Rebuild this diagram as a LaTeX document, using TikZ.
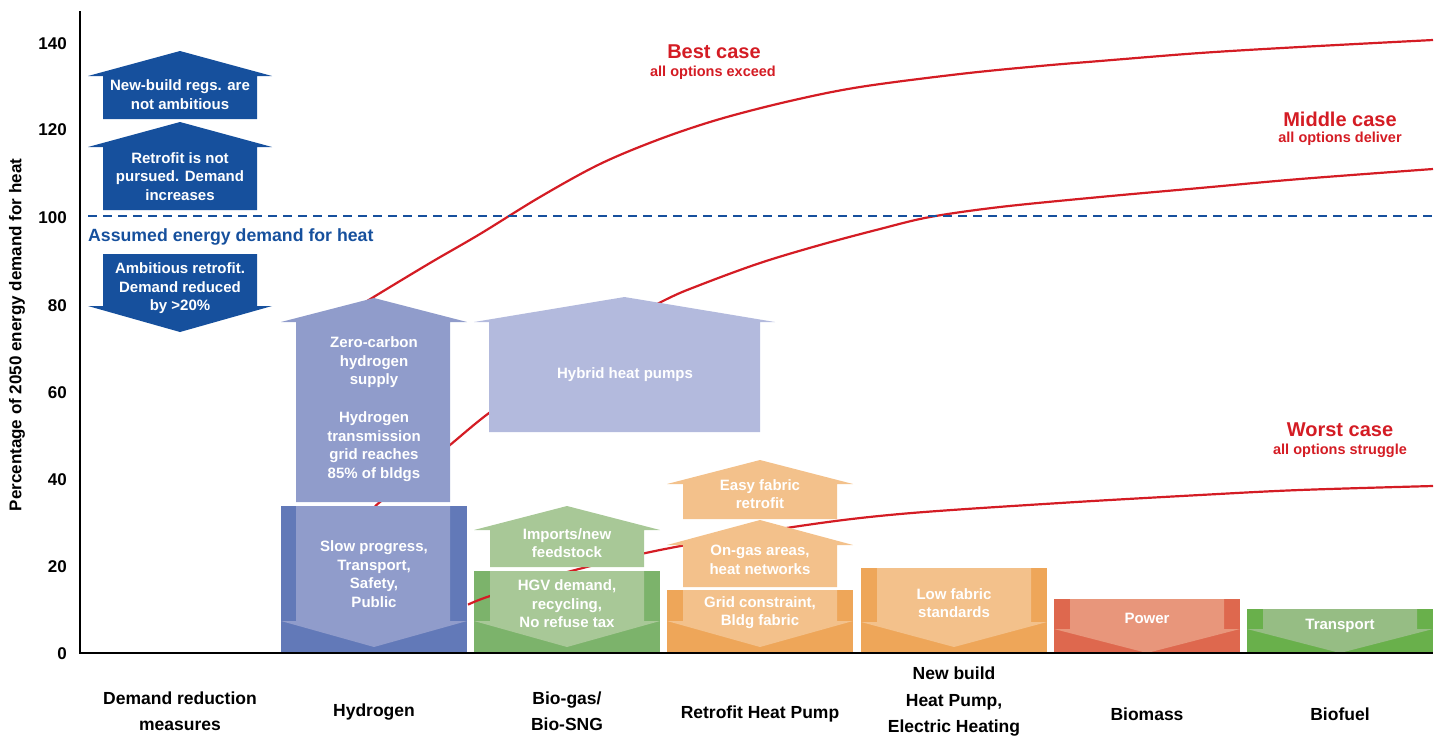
\documentclass[tikz,border=0pt]{standalone}
\usepackage{fontspec}
\setmainfont{Liberation Sans}
\definecolor{dblue}{RGB}{22,80,157}
\definecolor{casered}{RGB}{212,28,36}
\definecolor{h2dark}{RGB}{98,121,184}
\definecolor{h2light}{RGB}{144,156,203}
\definecolor{hyb}{RGB}{179,186,221}
\definecolor{bgdark}{RGB}{124,179,107}
\definecolor{bglight}{RGB}{168,200,151}
\definecolor{ordark}{RGB}{238,166,89}
\definecolor{orlight}{RGB}{243,193,139}
\definecolor{bmdark}{RGB}{222,104,78}
\definecolor{bmlight}{RGB}{232,150,123}
\definecolor{bfdark}{RGB}{105,176,75}
\definecolor{bflight}{RGB}{150,189,132}
% #1 colour, #2 X1, #3 X2, #4 bx1, #5 bx2, #6 tip y, #7 head base y, #8 bottom y
\newcommand{\ArrUp}[8]{\fill[#1] ({(#2+#3)/2},#6) -- (#3,#7) -- (#5,#7) -- (#5,#8) -- (#4,#8) -- (#4,#7) -- (#2,#7) -- cycle;}
% #1 colour, #2 X1, #3 X2, #4 bx1, #5 bx2, #6 top y, #7 head y, #8 tip y
\newcommand{\ArrDown}[8]{\fill[#1] (#4,#6) -- (#5,#6) -- (#5,#7) -- (#3,#7) -- ({(#2+#3)/2},#8) -- (#2,#7) -- (#4,#7) -- cycle;}
\begin{document}
\begin{tikzpicture}[x=1pt,y=-1pt,
  lbl/.style={font=\fontsize{15}{18.6}\selectfont\bfseries, text=white, align=center, inner sep=0pt},
  cat/.style={font=\fontsize{17.5}{26.5}\selectfont\bfseries, align=center, inner sep=0pt},
  tick/.style={font=\fontsize{17}{20}\selectfont\bfseries, anchor=east, inner sep=0pt},
  casetitle/.style={font=\fontsize{20}{24}\selectfont\bfseries, text=casered, inner sep=0pt},
  casesub/.style={font=\fontsize{14.5}{17}\selectfont\bfseries, text=casered, inner sep=0pt},
  curve/.style={draw=casered, line width=2.2pt},
  axisline/.style={draw=black, line width=1.2pt}]
\useasboundingbox (0,0) rectangle (1443,737);

% dark column boxes
\fill[h2dark] (281,506) rectangle (467,653);
\fill[bgdark] (474,571) rectangle (660,653);
\fill[ordark] (667,590) rectangle (853,653);
\fill[ordark] (861,568) rectangle (1047,653);
\fill[bmdark] (1054,599) rectangle (1240,653);
\fill[bfdark] (1247,609) rectangle (1433,653);

% scenario curves
\draw[curve] plot[smooth,tension=0.55] coordinates {(340,318) (372,298) (430,263) (480,234) (540,197) (600,164) (660,139) (720,119) (790,101) (860,87) (960,74) (1040,66) (1100,61) (1200,53) (1300,47) (1433,40)};
\draw[curve] plot[smooth,tension=0.55] coordinates {(376,506) (380,502) (420,470) (450,445) (489,413) (540,378) (600,335) (665,300) (700,285) (760,263) (820,245) (880,229) (930,217) (1000,207) (1100,197) (1200,188) (1300,179) (1433,169)};
\draw[curve] plot[smooth,tension=0.55] coordinates {(468,604.6) (490,596) (560,574) (660,550) (793,527) (900,514) (1060,503) (1200,495) (1300,490) (1433,486)};

% light arrows
\ArrDown{h2light}{281}{467}{296}{450}{506}{621}{647}
\ArrUp{h2light}{281}{467}{296}{450}{298}{322}{502}
\ArrUp{hyb}{474}{775}{489}{760}{297}{322}{432}
\ArrDown{bglight}{474}{660}{490}{644}{571}{621}{647}
\ArrUp{bglight}{474}{660}{490}{644}{506}{530}{567}
\ArrDown{orlight}{667}{853}{683}{837}{590}{621}{647}
\ArrUp{orlight}{667}{853}{683}{837}{520}{545}{587}
\ArrUp{orlight}{667}{853}{683}{837}{460}{484}{519}
\ArrDown{orlight}{861}{1047}{877}{1031}{568}{622}{647}
\ArrDown{bmlight}{1054}{1240}{1070}{1224}{599}{629}{653}
\ArrDown{bflight}{1247}{1433}{1263}{1417}{609}{629}{653}

% demand reduction arrows
\ArrUp{dblue}{88}{272}{103}{257}{51}{76}{119}
\ArrUp{dblue}{88}{272}{103}{257}{122}{147}{210}
\ArrDown{dblue}{88}{272}{103}{257}{254}{306}{332}

% assumed demand line
\draw[dblue, line width=2.2pt, dash pattern=on 9pt off 6pt] (88,216) -- (1433,216);
\node[font=\fontsize{17.7}{20}\selectfont\bfseries, text=dblue, anchor=west, inner sep=0pt] (assumed) at (88,237) {Assumed energy demand for heat};

% arrow texts
\node[lbl] (t1) at (180,94.5) {New-build regs. are\\not ambitious};
\node[lbl] (t2) at (180,176.5) {Retrofit is not\\pursued. Demand\\increases};
\node[lbl] (t3) at (180,288.5) {Ambitious retrofit.\\Demand reduced\\by >20\%};
\node[lbl] (h1) at (374,362.5) {Zero-carbon\\hydrogen\\supply};
\node[lbl] (h2) at (374,446.5) {Hydrogen\\transmission\\grid reaches\\85\% of bldgs};
\node[lbl] (h3) at (374,574) {Slow progress,\\Transport,\\Safety,\\Public};
\node[lbl] (hy) at (625,375) {Hybrid heat pumps};
\node[lbl] (b1) at (567,543) {Imports/new\\feedstock};
\node[lbl] (b2) at (567,604) {HGV demand,\\recycling,\\No refuse tax};
\node[lbl] (r1) at (760,494) {Easy fabric\\retrofit};
\node[lbl] (r2) at (760,560) {On-gas areas,\\heat networks};
\node[lbl] (r3) at (760,612.5) {Grid constraint,\\Bldg fabric};
\node[lbl] (n1) at (954,603) {Low fabric\\standards};
\node[lbl] (p1) at (1147,618) {Power};
\node[lbl] (f1) at (1340,626) {Transport};

% scenario labels
\node[casetitle] (best) at (714,52) {Best case};
\node[casesub] (bests) at (713,73) {all options exceed};
\node[casetitle] (mid) at (1340,119) {Middle case};
\node[casesub] (mids) at (1340,139) {all options deliver};
\node[casetitle] (worst) at (1340,430) {Worst case};
\node[casesub] (worsts) at (1340,451) {all options struggle};

% axes
\draw[axisline] (80,11) -- (80,653) -- (1433,653);
\node[tick] (y0) at (67,654) {0};
\node[tick] (y20) at (67,567) {20};
\node[tick] (y40) at (67,480) {40};
\node[tick] (y60) at (67,393) {60};
\node[tick] (y80) at (67,306) {80};
\node[tick] (y100) at (67,218) {100};
\node[tick] (y120) at (67,130) {120};
\node[tick] (y140) at (67,44) {140};
\node[font=\fontsize{17}{20}\selectfont\bfseries, rotate=90, inner sep=0pt] (ytitle) at (17,335) {Percentage of 2050 energy demand for heat};

% category labels
\node[cat] (c1) at (180,711) {Demand reduction\\measures};
\node[cat] (c2) at (374,712) {Hydrogen};
\node[cat] (c3) at (567,711) {Bio-gas/\\Bio-SNG};
\node[cat] (c4) at (760,714) {Retrofit Heat Pump};
\node[cat] (c5) at (954,702) {New build\\Heat Pump,\\Electric Heating};
\node[cat] (c6) at (1147,714) {Biomass};
\node[cat] (c7) at (1340,714) {Biofuel};
\end{tikzpicture}
\end{document}
